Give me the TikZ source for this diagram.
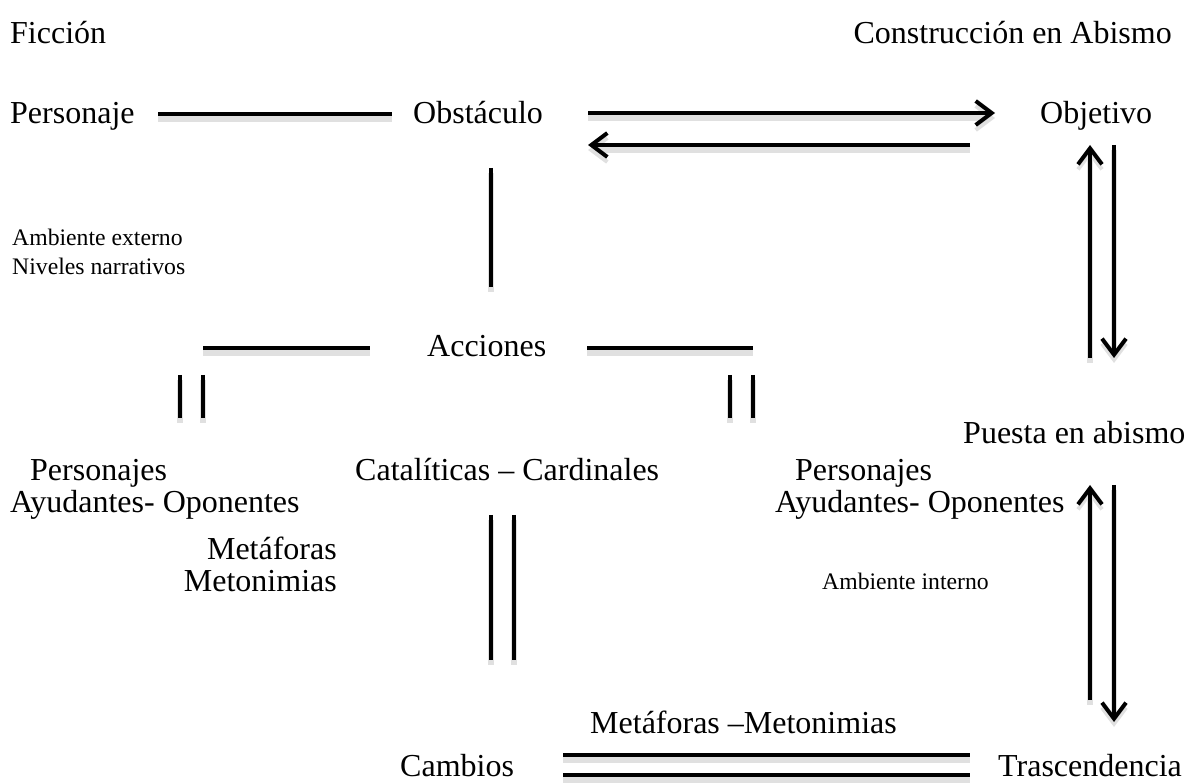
\documentclass[tikz,border=0pt]{standalone}
\usepackage{fontspec}
\setmainfont{Liberation Serif}
\usetikzlibrary{arrows.meta}

\tikzset{
  word/.style={inner sep=0pt, font=\fontsize{32}{38}\selectfont},
  smallword/.style={inner sep=0pt, font=\fontsize{23.7}{28}\selectfont},
  bar/.style={line width=4pt, preaction={draw, black!12, line width=6pt, transform canvas={yshift=-5pt}}},
  tip/.style={-{Straight Barb[length=16pt, width=24pt, line width=4pt]}}
}

\begin{document}
\begin{tikzpicture}[x=1pt, y=-1pt]

  % Page frame
  \useasboundingbox (0,0) rectangle (1187,783);

  % Titles
  \node[word, anchor=base west] (ficcion) at (10,44) {Ficción};
  \node[word, anchor=base east] (construccion) at (1172,44) {Construcción en Abismo};

  % First row
  \node[word, anchor=base west] (personaje) at (10,124) {Personaje};
  \node[word, anchor=base west] (obstaculo) at (413,124) {Obstáculo};
  \node[word, anchor=base west] (objetivo) at (1040,124) {Objetivo};

  % Left block texts
  \node[smallword, anchor=base west] (externo) at (12,246) {Ambiente externo};
  \node[smallword, anchor=base west] (niveles) at (12,275) {Niveles narrativos};
  \node[word, anchor=base west] (acciones) at (427,357) {Acciones};
  \node[word, anchor=base west] (puesta) at (963,444) {Puesta en abismo};

  % Third row
  \node[word, anchor=base west] (personajesL) at (30,481) {Personajes};
  \node[word, anchor=base west] (ayudantesL) at (10,513) {Ayudantes- Oponentes};
  \node[word, anchor=base west] (cataliticas) at (355,481) {Catalíticas – Cardinales};
  \node[word, anchor=base west] (personajesR) at (795,481) {Personajes};
  \node[word, anchor=base west] (ayudantesR) at (775,513) {Ayudantes- Oponentes};

  % Lower texts
  \node[word, anchor=base east] (metaforas) at (337,559) {Metáforas};
  \node[word, anchor=base east] (metonimias) at (337,591) {Metonimias};
  \node[smallword, anchor=base west] (interno) at (822,589) {Ambiente interno};
  \node[word, anchor=base west] (metmet) at (590,733) {Metáforas –Metonimias};
  \node[word, anchor=base west] (cambios) at (400,776) {Cambios};
  \node[word, anchor=base west] (trascendencia) at (998,776) {Trascendencia};

  % End points of the lines
  \coordinate (p1) at (158,114);  \coordinate (p2) at (392,114);
  \coordinate (r1) at (588,113);  \coordinate (r2) at (995,113);
  \coordinate (l1) at (970,145);  \coordinate (l2) at (588,145);
  \coordinate (v1) at (491,168);  \coordinate (v2) at (491,287);
  \coordinate (a1) at (203,348);  \coordinate (a2) at (370,348);
  \coordinate (a3) at (587,348);  \coordinate (a4) at (753,348);

  % Personaje -- Obstaculo, and down to Acciones
  \draw[bar] (p1) -- (p2);
  \draw[bar] (v1) -- (v2);

  % Obstaculo <-> Objetivo
  \draw[bar, tip] (r1) -- (r2);
  \draw[bar, tip] (l1) -- (l2);

  % Lines beside Acciones
  \draw[bar] (a1) -- (a2);
  \draw[bar] (a3) -- (a4);

  % Short double bars under them
  \foreach \x in {180,203,730,753}
    \draw[bar] (\x,375) -- (\x,418);

  % Long double bar under Catalíticas
  \foreach \x in {491,514}
    \draw[bar] (\x,515) -- (\x,660);

  % Objetivo <-> Puesta en abismo
  \draw[bar, tip] (1090,358) -- (1090,145);
  \draw[bar, tip] (1114,145) -- (1114,358);

  % Puesta en abismo <-> Trascendencia
  \draw[bar, tip] (1090,700) -- (1090,485);
  \draw[bar, tip] (1114,485) -- (1114,722);

  % Cambios == Trascendencia
  \foreach \y in {755,775}
    \draw[bar] (563,\y) -- (970,\y);

\end{tikzpicture}
\end{document}
